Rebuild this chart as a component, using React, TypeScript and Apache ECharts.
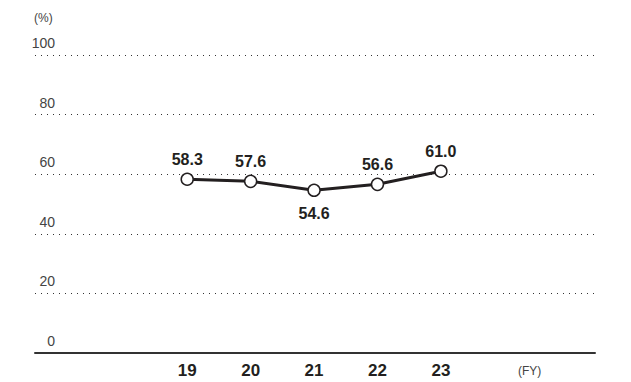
import React, { useEffect, useRef } from "react";
import * as echarts from "echarts";

const years = [19, 20, 21, 22, 23];
const yearLabels = ["19", "20", "21", "22", "23"];
const ratios = [58.3, 57.6, 54.6, 56.6, 61.0];
const labelBelow = [false, false, true, false, false];
const yTicks = [0, 20, 40, 60, 80, 100];

const FONT = '"Liberation Sans", Arial, Helvetica, sans-serif';

export default function App() {
  const ref = useRef<HTMLDivElement>(null);
  useEffect(() => {
    if (!ref.current) return;
    const chart = echarts.init(ref.current, undefined, { renderer: "svg" });
    const data = years.map((y, i) => ({
      value: [y, ratios[i]],
      label: {
        position: labelBelow[i] ? "bottom" : "top",
        distance: labelBelow[i] ? 8 : 5,
      },
    }));
    chart.setOption({
      animation: false,
      backgroundColor: "#ffffff",
      grid: { left: 35, right: 36, top: 55, bottom: 29 },
      xAxis: {
        type: "value",
        min: 16.6,
        max: 25.43,
        axisLine: { show: true, lineStyle: { color: "#333", width: 2 } },
        axisTick: { show: false },
        splitLine: { show: false },
        axisLabel: {
          customValues: years,
          formatter: (v: number) => yearLabels[years.indexOf(Math.round(v))] ?? "",
          fontFamily: FONT,
          fontWeight: "bold",
          fontSize: 17,
          color: "#231f20",
          margin: 9,
        },
      },
      yAxis: {
        type: "value",
        min: yTicks[0],
        max: yTicks[yTicks.length - 1],
        interval: 20,
        axisLine: { show: false },
        axisTick: { show: false },
        splitLine: {
          show: true,
          lineStyle: { color: "#333", width: 1, type: [1, 5] },
        },
        axisLabel: {
          inside: true,
          align: "right",
          verticalAlign: "bottom",
          margin: 20,
          padding: [0, 0, 5, 0],
          fontFamily: FONT,
          fontSize: 14,
          color: "#444",
        },
      },
      graphic: [
        {
          type: "text",
          left: 34,
          top: 12,
          style: { text: "(%)", fontFamily: FONT, fontSize: 12, fill: "#444" },
        },
        {
          type: "text",
          left: 518,
          top: 365,
          style: { text: "(FY)", fontFamily: FONT, fontSize: 12, fill: "#444" },
        },
      ],
      series: [
        {
          type: "line",
          data,
          symbol: "circle",
          symbolSize: 12,
          lineStyle: { color: "#231f20", width: 3 },
          itemStyle: { color: "#ffffff", borderColor: "#231f20", borderWidth: 1.5 },
          label: {
            show: true,
            fontFamily: FONT,
            fontWeight: "bold",
            fontSize: 16,
            color: "#231f20",
            formatter: (p: any) => p.value[1].toFixed(1),
          },
        },
      ],
    });
    return () => chart.dispose();
  }, []);
  return <div ref={ref} style={{ width: 631, height: 382, marginLeft: -8, marginTop: -8 }} />;
}
